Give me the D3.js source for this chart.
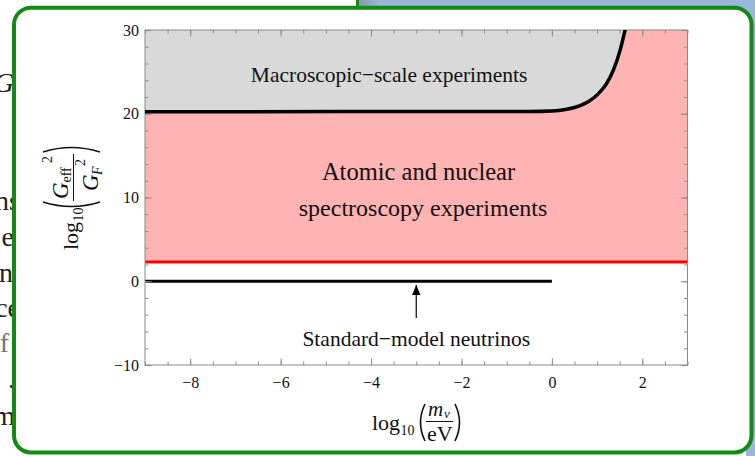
<!DOCTYPE html>
<html><head><meta charset="utf-8">
<script src="https://cdn.jsdelivr.net/npm/d3@7"></script>
<style>body{margin:0;background:#fff}svg{display:block}</style>
</head><body>
<svg id="c" width="755" height="456"></svg>
<script>
// ---------------- data ----------------
const xDomain = [-9, 3];
const yDomain = [-10, 30];
const xTickValues = [-8, -6, -4, -2, 0, 2];
const yTickValues = [-10, 0, 10, 20, 30];
// boundary of macroscopic-scale experiments (log10 m_nu, log10 Geff^2/GF^2)
const boundaryX = [-9, -0.5, 0, 0.3, 0.5, 0.7, 0.85, 1.03, 1.21, 1.36, 1.51, 1.62, 1.70];
const boundaryY = [20.25, 20.27, 20.33, 20.5, 20.75, 21.15, 21.6, 22.4, 23.6, 25.2, 27.6, 30, 31.8];
const atomicLimit = 2.3;
const smX = [-9, 0];
const smY = [0, 0];
const arrowX = [-3, -3];
const arrowY = [-4.4, -0.45];
const regionLabels = ["Macroscopic\u2212scale experiments", "Atomic and nuclear", "spectroscopy experiments", "Standard\u2212model neutrinos"];
const regionLabelX = [-3.6, -2.95, -2.85, -3];
const regionLabelY = [23.8, 12.1, 7.8, -7.7];
const bgLetters = ["G", "ns", "e", "n", "ce", "f", ".", "m"];

// ---------------- layout ----------------
const serif = "'Liberation Serif','Times New Roman',serif";
const svg = d3.select("#c");

// backdrop of the slide
const defs = svg.append("defs");
const lg = defs.append("linearGradient").attr("id", "bg").attr("x1", 0).attr("x2", 1);
lg.append("stop").attr("offset", 0).attr("stop-color", "#8696ab");
lg.append("stop").attr("offset", 0.06).attr("stop-color", "#98b7db");
lg.append("stop").attr("offset", 1).attr("stop-color", "#98b7db");
svg.append("rect").attr("x", 357).attr("y", 0).attr("width", 398).attr("height", 456).attr("fill", "url(#bg)");
svg.append("rect").attr("x", 0).attr("y", 26).attr("width", 746).attr("height", 430).attr("fill", "#fff");
svg.append("line").attr("x1", 357.5).attr("x2", 357.5).attr("y1", 0).attr("y2", 9)
  .attr("stroke", "#138a13").attr("stroke-width", 3);

const bgY = [92, 210, 246, 282, 317, 352, 388, 425];
svg.append("g").selectAll("text").data(bgLetters).join("text")
  .attr("x", (d, i) => [14, 20, 14, 13, 20, 9, 15, 15][i])
  .attr("y", (d, i) => bgY[i])
  .attr("text-anchor", "end")
  .attr("font-family", serif).attr("font-size", 28)
  .attr("font-style", (d, i) => i === 0 ? "italic" : "normal")
  .attr("fill", (d, i) => i === 5 ? "#777" : "#222")
  .text(d => d);

// green rounded box
svg.append("rect").attr("x", 14).attr("y", 7.7).attr("width", 737.5).attr("height", 444.8)
  .attr("rx", 17).attr("fill", "#fff").attr("stroke", "#138a13").attr("stroke-width", 4);

// plot
const L = 145, R = 687.5, T = 30, B = 365;
const x = d3.scaleLinear().domain(xDomain).range([L, R]);
const y = d3.scaleLinear().domain(yDomain).range([B, T]);

defs.append("clipPath").attr("id", "pc").append("rect")
  .attr("x", L).attr("y", T).attr("width", R - L).attr("height", B - T);
const plot = svg.append("g").attr("clip-path", "url(#pc)");

const boundary = boundaryX.map((v, i) => [v, boundaryY[i]]);

plot.append("rect").attr("x", L).attr("width", R - L)
  .attr("y", y(yDomain[1])).attr("height", y(atomicLimit) - y(yDomain[1]))
  .attr("fill", "#ffb3b3");
plot.append("path").datum(boundary)
  .attr("d", d3.area().x(d => x(d[0])).y0(y(yDomain[1])).y1(d => y(d[1])).curve(d3.curveMonotoneX))
  .attr("fill", "#d9d9d9");
plot.append("line").attr("x1", x(xDomain[0])).attr("x2", x(xDomain[1]))
  .attr("y1", y(atomicLimit)).attr("y2", y(atomicLimit))
  .attr("stroke", "#ff0000").attr("stroke-width", 3);
plot.append("line").attr("x1", x(smX[0])).attr("x2", x(smX[1]))
  .attr("y1", y(smY[0])).attr("y2", y(smY[1]))
  .attr("stroke", "#000").attr("stroke-width", 3);

// arrow
defs.append("marker").attr("id", "ah").attr("viewBox", "0 0 10 10").attr("refX", 10).attr("refY", 5)
  .attr("markerWidth", 10).attr("markerHeight", 10).attr("markerUnits", "userSpaceOnUse").attr("orient", "auto")
  .append("path").attr("d", "M0,0.8 L10,5 L0,9.2 Z").attr("fill", "#000");
svg.append("line").attr("x1", x(arrowX[0])).attr("x2", x(arrowX[1]))
  .attr("y1", y(arrowY[0])).attr("y2", y(arrowY[1]))
  .attr("stroke", "#000").attr("stroke-width", 1.2).attr("marker-end", "url(#ah)");

// frame and ticks
const tickCol = "#8a8a8a";
function styleAxis(g) {
  g.select(".domain").remove();
  g.selectAll(".tick line").attr("stroke", tickCol);
  g.selectAll(".tick text").attr("font-family", serif).attr("font-size", 16).attr("fill", "#111");
}
const xMinor = x.ticks(24), yMinor = y.ticks(20);
svg.append("g").attr("transform", `translate(0,${B})`)
  .call(d3.axisBottom(x).tickValues(xMinor).tickSizeInner(-3.5).tickSizeOuter(0).tickFormat("")).call(styleAxis);
svg.append("g").attr("transform", `translate(0,${B})`)
  .call(d3.axisBottom(x).tickValues(xTickValues).tickSizeInner(-6.5).tickSizeOuter(0).tickPadding(12)).call(styleAxis);
svg.append("g").attr("transform", `translate(0,${T})`)
  .call(d3.axisTop(x).tickValues(xMinor).tickSizeInner(-3.5).tickSizeOuter(0).tickFormat("")).call(styleAxis);
svg.append("g").attr("transform", `translate(0,${T})`)
  .call(d3.axisTop(x).tickValues(xTickValues).tickSizeInner(-6.5).tickSizeOuter(0).tickFormat("")).call(styleAxis);
svg.append("g").attr("transform", `translate(${L},0)`)
  .call(d3.axisLeft(y).tickValues(yMinor).tickSizeInner(-3.5).tickSizeOuter(0).tickFormat("")).call(styleAxis);
svg.append("g").attr("transform", `translate(${L},0)`)
  .call(d3.axisLeft(y).tickValues(yTickValues).tickSizeInner(-6.5).tickSizeOuter(0).tickPadding(6)).call(styleAxis);
svg.append("g").attr("transform", `translate(${R},0)`)
  .call(d3.axisRight(y).tickValues(yMinor).tickSizeInner(-3.5).tickSizeOuter(0).tickFormat("")).call(styleAxis);
svg.append("g").attr("transform", `translate(${R},0)`)
  .call(d3.axisRight(y).tickValues(yTickValues).tickSizeInner(-6.5).tickSizeOuter(0).tickFormat("")).call(styleAxis);
svg.append("rect").attr("x", L).attr("y", T).attr("width", R - L).attr("height", B - T)
  .attr("fill", "none").attr("stroke", tickCol).attr("stroke-width", 1);

// boundary curve on top of frame
svg.append("path").datum(boundary)
  .attr("clip-path", "url(#pc)")
  .attr("d", d3.line().x(d => x(d[0])).y(d => y(d[1])).curve(d3.curveMonotoneX))
  .attr("fill", "none").attr("stroke", "#000").attr("stroke-width", 3.5);

// region labels
const labelSizes = [21.5, 24.5, 24, 21.5];
svg.append("g").selectAll("text").data(regionLabels).join("text")
  .attr("x", (d, i) => x(regionLabelX[i]))
  .attr("y", (d, i) => y(regionLabelY[i]))
  .attr("text-anchor", "middle")
  .attr("font-family", serif).attr("font-size", (d, i) => labelSizes[i])
  .attr("fill", "#111")
  .text(d => d);

// axis titles
function txt(g, s, u, v, size, italic) {
  g.append("text").attr("x", u).attr("y", v).attr("font-family", serif).attr("font-size", size)
    .attr("font-style", italic ? "italic" : "normal").attr("fill", "#111").text(s);
}
function paren(g, u, v0, v1, left) {
  const b = left ? -9 : 9;
  g.append("path").attr("d", `M${u},${v0} Q${u + b},${(v0 + v1) / 2} ${u},${v1}`)
    .attr("fill", "none").attr("stroke", "#111").attr("stroke-width", 1.6);
}
// x title
const xt = svg.append("g").attr("transform", "translate(372,430)");
txt(xt, "log", 0, 0, 22);
txt(xt, "10", 28.5, 5, 14);
paren(xt, 53, -26, 11, true);
txt(xt, "m", 56, -14, 21, true);
txt(xt, "\u03bd", 72, -12.5, 13, true);
xt.append("line").attr("x1", 54).attr("x2", 81).attr("y1", -8.5).attr("y2", -8.5).attr("stroke", "#111").attr("stroke-width", 1);
txt(xt, "eV", 55, 10.5, 22);
paren(xt, 83, -26, 11, false);

// y title
const yt = svg.append("g").attr("transform", "translate(78,250) rotate(-90)");
txt(yt, "log", 0, 0, 22);
txt(yt, "10", 28.5, 5, 14);
paren(yt, 48, -35, 22, true);
txt(yt, "G", 51, -10, 23, true);
txt(yt, "eff", 67.5, -7, 14);
txt(yt, "2", 87, -26, 14);
yt.append("line").attr("x1", 49).attr("x2", 96).attr("y1", -4.5).attr("y2", -4.5).attr("stroke", "#111").attr("stroke-width", 1);
txt(yt, "G", 59, 20, 23, true);
txt(yt, "F", 75, 24, 14, true);
txt(yt, "2", 84, 7, 14);
paren(yt, 98, -35, 22, false);
</script>
</body></html>
